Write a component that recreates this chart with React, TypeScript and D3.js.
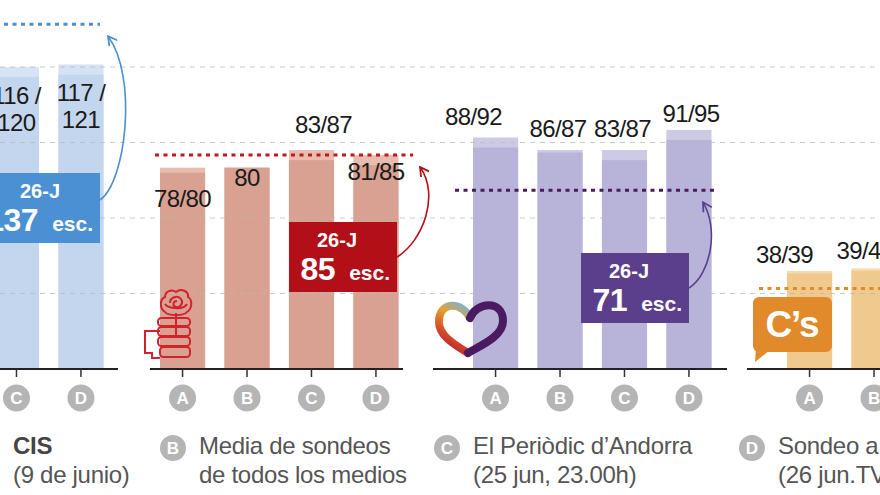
import React from 'react';
import * as d3 from 'd3';

const W = 880;
const H = 495;

// ---------- data ----------
const pollIds = ['A', 'B', 'C', 'D'];
const partyNames = ['PP', 'PSOE', 'Unidos Podemos', 'Ciudadanos'];
const ppMin = [118, 116, 116, 117];
const ppMax = [121, 119, 120, 121];
const psoeMin = [78, 80, 83, 81];
const psoeMax = [80, 80, 87, 85];
const podMin = [88, 86, 83, 91];
const podMax = [92, 87, 87, 95];
const csMin = [38, 39, 36, 41];
const csMax = [39, 40, 39, 43];
const result26J = [137, 85, 71, 32];
const gridTicks = [30, 60, 90, 120];
const legendTitles = ['CIS', 'Media de sondeos', 'El Periòdic d’Andorra', 'Sondeo a pie de urna'];
const legendSubtitles = ['(9 de junio)', 'de todos los medios', '(25 jun, 23.00h)', '(26 jun.TVE, 20.00h)'];

const seriesMin = [ppMin, psoeMin, podMin, csMin];
const seriesMax = [ppMax, psoeMax, podMax, csMax];

// ---------- layout / style ----------
const FONT = '"Liberation Sans", Arial, Helvetica, sans-serif';
const barMain = ['#c4d6ee', '#d9a191', '#b8b4d9', '#f0c98e'];
const barLight = ['#d6e3f4', '#e7bdb0', '#cdcae6', '#f5dbb3'];
const accent = ['#4a90d2', '#b20f18', '#5c3f8c', '#e08a2b'];
const refColor = ['#4a90d2', '#c4161f', '#4b1a5f', '#e08a2b'];
const groupBarStart = [-135, 160, 473, 787];
const axisExtent = [[-200, 118], [150, 403], [433, 727], [747, 1000]];
const refExtent = [[-200, 100], [155, 413], [455, 716], [759, 1000]];
const boxPos = [[-8, 173], [289, 222], [581, 253], [1000, 300]];
const arrowStartDy = [27, 35, 35, 35];
const arrowTipDx = [8, 23, 14, 14];
const arrowCtrl = [[26, 18, 30, 40], [26, 16, 20, 28], [22, 14, 16, 26], [20, 14, 16, 26]];
const labelDx = [[0, 0, 0, 0], [0, 0, 12, 0], [-22, -2, -2, 2], [-25, -9, 0, 0]];
const labelDy = [[37, 37, 37, 37], [39, 18, -17, 25], [-12, -13, -13, -8], [-8, -9, -8, -8]];
const legendX = [-13, 173, 447, 752];

const y = d3.scaleLinear().domain([0, 120]).range([369, 67]);
const xBand = d3.scaleBand<string>().domain(pollIds).range([0, 238.5]).paddingInner(0.3).paddingOuter(0);
const bw = xBand.bandwidth();
const baseY = y(0);

function Circle({ cx, cy, r, letter }: { cx: number; cy: number; r: number; letter: string }) {
  return (
    <g>
      <circle cx={cx} cy={cy} r={r} fill="#b5b5b5" />
      <text x={cx} y={cy + 6} textAnchor="middle" fontFamily={FONT} fontWeight="bold" fontSize={17} fill="#fff">
        {letter}
      </text>
    </g>
  );
}

function PsoeLogo() {
  const c = '#d3222c';
  const rows = [
    [158, 318, 32, 8],
    [158, 327, 32, 9],
    [158, 337, 32, 9],
    [160, 347, 30, 10],
  ];
  return (
    <g fill="none" stroke={c} strokeWidth={2}>
      <path d="M165,312 C159,308 160,299 165,297 C165,291 172,289 176,292 C181,288 189,291 188,297 C193,300 192,309 187,312 C184,316 168,316 165,312 Z" />
      <path d="M170,303 C170,297 178,295 181,299 C184,303 180,308 176,307 C172,306 173,301 177,301" />
      <path d="M165,304 C168,309 184,310 187,304" />
      <line x1={176} y1={313} x2={176} y2={336} />
      {rows.map((r, i) => (
        <rect key={i} x={r[0]} y={r[1]} width={r[2]} height={r[3]} rx={3.5} />
      ))}
      <path d="M160,331 L145,331 L145,353 L152,353 L152,358 L160,358" />
    </g>
  );
}

function PodemosLogo() {
  return (
    <g fill="none" strokeWidth={8} strokeLinecap="round">
      <defs>
        <linearGradient id="podGrad" x1="0.9" y1="0" x2="0.5" y2="1">
          <stop offset="0" stopColor="#7fb0d4" />
          <stop offset="0.35" stopColor="#e6a12e" />
          <stop offset="0.75" stopColor="#d2462a" />
          <stop offset="1" stopColor="#b8262e" />
        </linearGradient>
      </defs>
      <path d="M470,318 C463,302 439,300 439,322 C439,336 455,345 468,353" stroke="url(#podGrad)" />
      <path d="M470,318 C476,302 503,299 503,321 C503,336 482,345 468,353" stroke="#4b1a61" />
    </g>
  );
}

function CsLogo() {
  return (
    <g>
      <rect x={753} y={297} width={79} height={55} rx={6} fill="#e08a2b" />
      <path d="M756,348 L755,362 L770,350 Z" fill="#e08a2b" />
      <text x={792} y={337} textAnchor="middle" fontFamily={FONT} fontWeight="bold" fontSize={37} letterSpacing={-1} fill="#fff">
        C’s
      </text>
    </g>
  );
}

export default function App() {
  return (
    <svg
      width={W}
      height={H}
      viewBox={`0 0 ${W} ${H}`}
      style={{ position: 'absolute', left: 0, top: 0, background: '#fff' }}
    >
      <defs>
        {accent.map((col, g) => (
          <marker
            key={g}
            id={`arr${g}`}
            viewBox="0 -5 10 10"
            refX={9}
            refY={0}
            markerWidth={11}
            markerHeight={11}
            markerUnits="userSpaceOnUse"
            orient="auto"
          >
            <path d="M1,-4.5 L9,0 L1,4.5" fill="none" stroke={col} strokeWidth={1.6} />
          </marker>
        ))}
      </defs>
      <rect width={W} height={H} fill="#fff" />

      {/* bars */}
      {partyNames.map((p, g) => (
        <g key={p}>
          {pollIds.map((id, i) => {
            const x = groupBarStart[g] + (xBand(id) as number);
            return (
              <g key={id}>
                <rect x={x} y={y(seriesMax[g][i])} width={bw} height={baseY - y(seriesMax[g][i])} fill={barLight[g]} />
                <rect x={x} y={y(seriesMin[g][i])} width={bw} height={baseY - y(seriesMin[g][i])} fill={barMain[g]} />
              </g>
            );
          })}
        </g>
      ))}

      {/* grid */}
      {gridTicks.map((t) => (
        <line key={t} x1={0} x2={W} y1={y(t)} y2={y(t)} stroke="#b8b8b8" strokeOpacity={0.75} strokeWidth={1} strokeDasharray="5 5" />
      ))}

      {/* 26-J reference lines */}
      {partyNames.map((p, g) => (
        <line
          key={p}
          x1={refExtent[g][0]}
          x2={refExtent[g][1]}
          y1={y(result26J[g])}
          y2={y(result26J[g])}
          stroke={refColor[g]}
          strokeWidth={3}
          strokeDasharray="4 4.5"
        />
      ))}

      {/* value labels */}
      {partyNames.map((p, g) => (
        <g key={p} fontFamily={FONT} fontSize={24} letterSpacing={-0.6} fill="#1a1a1a" textAnchor="middle">
          {pollIds.map((id, i) => {
            const cx = groupBarStart[g] + (xBand(id) as number) + bw / 2 + labelDx[g][i];
            const ty = y(seriesMax[g][i]) + labelDy[g][i];
            const mn = seriesMin[g][i];
            const mx = seriesMax[g][i];
            if (g === 0) {
              return (
                <text key={id} x={cx} y={ty}>
                  <tspan x={cx}>{`${mn} /`}</tspan>
                  <tspan x={cx} dy={27}>{`${mx}`}</tspan>
                </text>
              );
            }
            return (
              <text key={id} x={cx} y={ty}>
                {mn === mx ? `${mx}` : `${mn}/${mx}`}
              </text>
            );
          })}
        </g>
      ))}

      {/* 26-J boxes and arrows */}
      {partyNames.map((p, g) => {
        const [bx, by] = boxPos[g];
        const bwid = 108;
        const bh = 70;
        const sx = bx + bwid;
        const sy = by + arrowStartDy[g];
        const tx = sx + arrowTipDx[g];
        const ty = y(result26J[g]) + 12;
        const [c1x, c1y, c2x, c2y] = arrowCtrl[g];
        const path = d3.path();
        path.moveTo(sx, sy);
        path.bezierCurveTo(sx + c1x, sy - c1y, tx + c2x, ty + c2y, tx, ty);
        const cx = bx + bwid / 2;
        return (
          <g key={p}>
            <rect x={bx} y={by} width={bwid} height={bh} fill={accent[g]} />
            <text x={cx - 6} y={by + 25} textAnchor="middle" fontFamily={FONT} fontWeight="bold" fontSize={20} fill="#fff">
              26-J
            </text>
            <text x={bx + bwid - 7} y={by + 58} textAnchor="end" fontFamily={FONT} fontWeight="bold" fill="#fff">
              <tspan fontSize={32} letterSpacing={-0.5}>{result26J[g]}</tspan>
              <tspan fontSize={21} dx={14}>esc.</tspan>
            </text>
            <path d={path.toString()} fill="none" stroke={accent[g]} strokeWidth={1.6} markerEnd={`url(#arr${g})`} />
          </g>
        );
      })}

      {/* logos */}
      <PsoeLogo />
      <PodemosLogo />
      <CsLogo />

      {/* axes */}
      {partyNames.map((p, g) => (
        <g key={p}>
          <line x1={axisExtent[g][0]} x2={axisExtent[g][1]} y1={baseY} y2={baseY} stroke="#222" strokeWidth={2} />
          {pollIds.map((id) => {
            const cx = groupBarStart[g] + (xBand(id) as number) + bw / 2;
            return (
              <g key={id}>
                <line x1={cx} x2={cx} y1={baseY} y2={baseY + 8} stroke="#333" strokeWidth={1.5} />
                <Circle cx={cx} cy={398} r={13.5} letter={id} />
              </g>
            );
          })}
        </g>
      ))}

      {/* legend */}
      {pollIds.map((id, i) => (
        <g key={id}>
          <Circle cx={legendX[i]} cy={448} r={13} letter={id} />
          <text x={legendX[i] + 26} y={454} fontFamily={FONT} fontSize={24} letterSpacing={-0.3} fill={i === 0 ? '#444' : '#555'} fontWeight={i === 0 ? 'bold' : 'normal'}>
            {legendTitles[i]}
          </text>
          <text x={legendX[i] + 26} y={483} fontFamily={FONT} fontSize={24} letterSpacing={-0.3} fill="#555">
            {legendSubtitles[i]}
          </text>
        </g>
      ))}
    </svg>
  );
}
